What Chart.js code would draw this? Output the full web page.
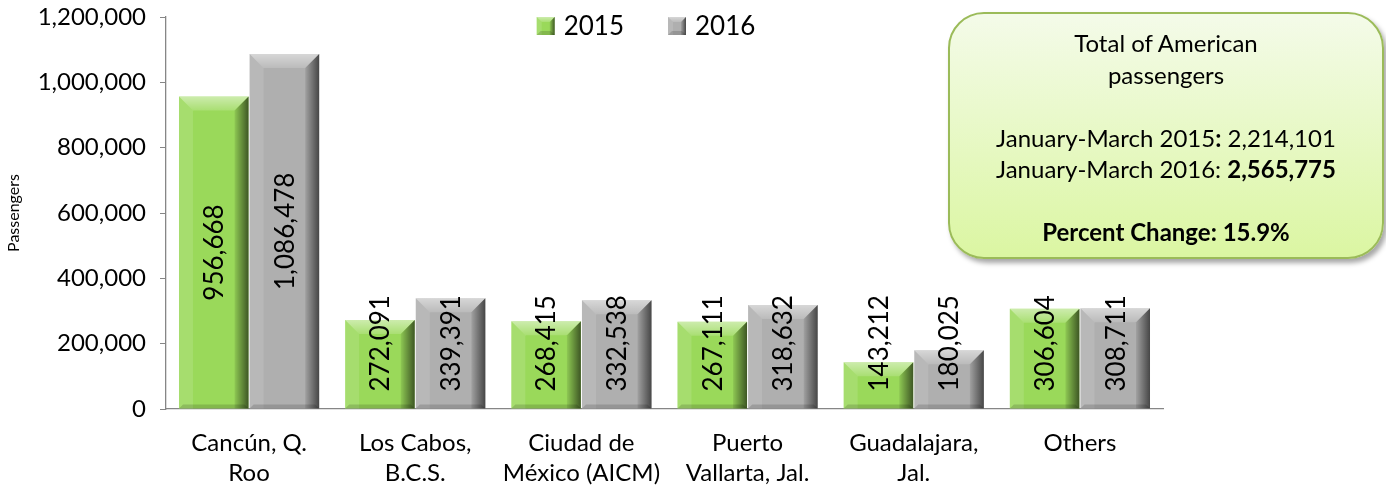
<!DOCTYPE html>
<html lang="en">
<head>
<meta charset="UTF-8" />
<title>American passengers, January-March</title>
<script src="https://cdn.jsdelivr.net/npm/chart.js"></script>
<style>
	body { margin: 0; background: #fff; }
	.wrap { position: relative; width: 1386px; height: 489px; }
	.note {
		position: absolute; left: 948px; top: 12px; width: 436px; height: 247px;
		box-sizing: border-box; border: 2px solid #9bbb59; border-radius: 36px;
		background: linear-gradient(#f4fbe9, #dbf6a2);
		box-shadow: 3px 4px 5px rgba(0, 0, 0, 0.35);
		font-family: Lato, sans-serif; font-size: 24px; color: #000;
		text-align: center; line-height: 31.5px; padding-top: 13px;
	}
	.note p { margin: 0; }
</style>
</head>
<body>
<div class="wrap">
	<canvas id="myChart" width="1386" height="489"></canvas>
	<div class="note">
		<p>Total of American</p>
		<p>passengers</p>
		<p>&nbsp;</p>
		<p>January-March 2015<b>:</b> 2,214,101</p>
		<p>January-March 2016: <b>2,565,775</b></p>
		<p>&nbsp;</p>
		<p><b>Percent Change: 15.9%</b></p>
	</div>
</div>
<script>
const categories = [
	['Cancún, Q.', 'Roo'],
	['Los Cabos,', 'B.C.S.'],
	['Ciudad de', 'México (AICM)'],
	['Puerto', 'Vallarta, Jal.'],
	['Guadalajara,', 'Jal.'],
	['Others']
];
const seriesNames = ['2015', '2016'];
const values2015 = [956668, 272091, 268415, 267111, 143212, 306604];
const values2016 = [1086478, 339391, 332538, 318632, 180025, 308711];
const yTicks = [0, 200000, 400000, 600000, 800000, 1000000, 1200000];

const fillColors = ['#9ad95a', '#afafaf'];
const fmt = (v) => v.toLocaleString('en-US');

// bevel look drawn over each bar, using the bar element's own geometry
function bevel(ctx, l, t, r, b, s) {
	let g = ctx.createLinearGradient(0, t, 0, t + s);
	g.addColorStop(0, 'rgba(255,255,255,0.5)');
	g.addColorStop(1, 'rgba(255,255,255,0.15)');
	ctx.fillStyle = g;
	ctx.beginPath();
	ctx.moveTo(l, t); ctx.lineTo(r, t); ctx.lineTo(r - s, t + s); ctx.lineTo(l + s, t + s);
	ctx.closePath(); ctx.fill();

	ctx.fillStyle = 'rgba(255,255,255,0.12)';
	ctx.beginPath();
	ctx.moveTo(l, t); ctx.lineTo(l + s, t + s); ctx.lineTo(l + s, b); ctx.lineTo(l, b);
	ctx.closePath(); ctx.fill();

	g = ctx.createLinearGradient(r - s, 0, r, 0);
	g.addColorStop(0, 'rgba(0,0,0,0.08)');
	g.addColorStop(1, 'rgba(0,0,0,0.6)');
	ctx.fillStyle = g;
	ctx.beginPath();
	ctx.moveTo(r, t); ctx.lineTo(r, b); ctx.lineTo(r - s, b); ctx.lineTo(r - s, t + s);
	ctx.closePath(); ctx.fill();

	const sb = Math.min(4, s);
	ctx.fillStyle = 'rgba(0,0,0,0.15)';
	ctx.beginPath();
	ctx.moveTo(l, b); ctx.lineTo(r, b); ctx.lineTo(r - sb, b - sb); ctx.lineTo(l + sb, b - sb);
	ctx.closePath(); ctx.fill();
}

const barDecor = {
	id: 'barDecor',
	afterDatasetsDraw(chart) {
		const ctx = chart.ctx;
		ctx.save();
		chart.data.datasets.forEach((ds, i) => {
			chart.getDatasetMeta(i).data.forEach((bar, j) => {
				const p = bar.getProps(['x', 'y', 'base', 'width'], true);
				const l = p.x - p.width / 2, r = p.x + p.width / 2;
				bevel(ctx, l, p.y, r, p.base, Math.min(14, (p.base - p.y) / 2));

				const txt = fmt(ds.data[j]);
				ctx.font = '26px Lato';
				const w = ctx.measureText(txt).width;
				let cy = (p.y + p.base) / 2;
				if (cy + w / 2 > p.base - 17) cy = p.base - 17 - w / 2;
				ctx.save();
				ctx.translate(p.x, cy);
				ctx.rotate(-Math.PI / 2);
				ctx.fillStyle = '#000';
				ctx.textAlign = 'center';
				ctx.textBaseline = 'middle';
				ctx.fillText(txt, 0, 1);
				ctx.restore();
			});
		});
		ctx.restore();
	}
};

const topLegend = {
	id: 'topLegend',
	afterDraw(chart) {
		const ctx = chart.ctx;
		ctx.save();
		ctx.font = '26px Lato';
		ctx.textBaseline = 'middle';
		const box = 18, gap = 9, between = 44;
		const widths = chart.data.datasets.map((d) => ctx.measureText(d.label).width);
		let total = widths.reduce((a, w) => a + box + gap + w, 0) + between * (widths.length - 1);
		let x = 646 - total / 2;
		const cy = 26;
		chart.data.datasets.forEach((d, i) => {
			ctx.fillStyle = d.backgroundColor;
			ctx.fillRect(x, cy - box / 2, box, box);
			bevel(ctx, x, cy - box / 2, x + box, cy + box / 2, 5);
			ctx.fillStyle = '#000';
			ctx.fillText(d.label, x + box + gap, cy + 1);
			x += box + gap + widths[i] + between;
		});
		ctx.restore();
	}
};

const config = {
	type: 'bar',
	data: {
		labels: categories,
		datasets: [
			{ label: seriesNames[0], data: values2015, backgroundColor: fillColors[0] },
			{ label: seriesNames[1], data: values2016, backgroundColor: fillColors[1] }
		]
	},
	options: {
		responsive: false,
		animation: false,
		events: [],
		layout: { padding: { top: 17, right: 223, left: 0, bottom: 0 } },
		categoryPercentage: 0.85,
		barPercentage: 0.985,
		plugins: {
			legend: { display: false },
			tooltip: { enabled: false }
		},
		scales: {
			x: {
				afterFit: (s) => { s.height = 80; },
				grid: { drawOnChartArea: false, drawTicks: false },
				border: { display: true, color: '#868686', width: 1.3 },
				ticks: {
					color: '#000',
					padding: 20,
					maxRotation: 0,
					autoSkip: false,
					font: { family: 'Lato', size: 24, lineHeight: 1.22 }
				}
			},
			y: {
				min: 0,
				max: 1200000,
				afterFit: (s) => { s.width = 166; s.paddingTop = 0; s.paddingBottom = 0; },
				afterBuildTicks: (s) => { s.ticks = yTicks.map((v) => ({ value: v })); },
				grid: { drawOnChartArea: false, drawTicks: true, tickLength: 6, color: '#868686' },
				border: { display: true, color: '#868686', width: 1.3 },
				ticks: {
					color: '#000',
					padding: 14,
					font: { family: 'Lato', size: 24 },
					callback: (v) => fmt(v)
				},
				title: {
					display: true,
					text: 'Passengers',
					color: '#000',
					padding: { top: 4, bottom: 0 },
					font: { family: 'Lato', size: 16 }
				}
			}
		}
	},
	plugins: [barDecor, topLegend]
};

new Chart(document.getElementById('myChart'), config);
</script>
</body>
</html>
